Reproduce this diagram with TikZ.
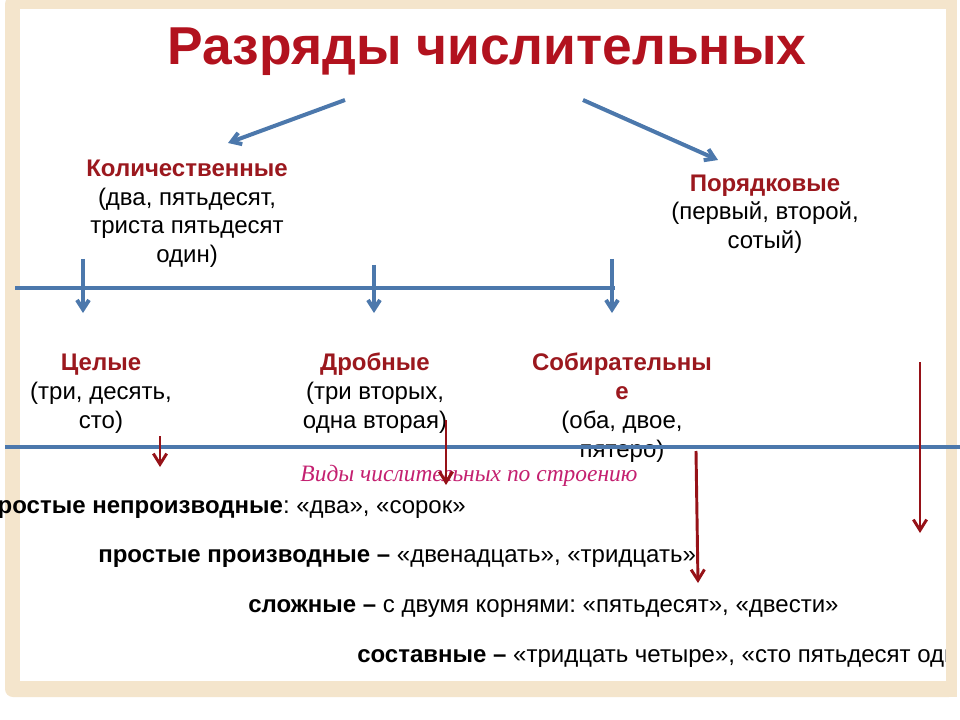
\documentclass[tikz,border=0pt]{standalone}
\usepackage{fontspec}
\setmainfont{Liberation Sans}
\newfontfamily\vidyfont{Liberation Serif}
\usetikzlibrary{arrows.meta}
\definecolor{titlered}{RGB}{178,18,30}
\definecolor{headred}{RGB}{155,24,30}
\definecolor{lineblue}{RGB}{76,120,172}
\definecolor{arrowred}{RGB}{150,18,24}
\definecolor{vidypink}{RGB}{196,32,112}
\definecolor{framebeige}{RGB}{244,229,204}
\newcommand{\razryad}[1]{{\bfseries\color{headred}#1}}
\frenchspacing

\begin{document}
\begin{tikzpicture}[
  x=0.75pt, y=-0.75pt,
  every node/.style={inner sep=0pt, font=\fontsize{18}{21.75}\selectfont},
  titletext/.style={anchor=base, text=titlered,
                    font=\fontsize{40}{44}\selectfont\bfseries},
  group/.style={anchor=base, align=center},
  kind/.style={anchor=base west},
  vidy/.style={anchor=base, text=vidypink,
               font=\fontsize{17.6}{20}\selectfont\vidyfont\itshape},
  bluearrow/.style={-{Straight Barb[length=7pt,width=9pt]}, line width=3pt,
                    lineblue},
  blueline/.style={line width=3pt, lineblue},
  redarrow/.style={-{Straight Barb[length=8pt,width=10pt]}, line width=2.2pt,
                   arrowred},
]
  % Slide frame
  \clip (0,0) rectangle (960,720);
  \fill[white] (0,0) rectangle (960,720);
  \fill[framebeige, rounded corners=6pt] (5,-4) rectangle (957,697);
  \fill[white] (20,9) rectangle (946,681);

  % Title
  \node[titletext] (title) at (487,65) {Разряды числительных};

  % Main groups (base = last line)
  \node[group] (kolich) at (187,263)
    {\razryad{Количественные}\\(два, пятьдесят,\\триста пятьдесят\\один)};
  \node[group] (poryad) at (765,249)
    {\razryad{Порядковые}\\(первый, второй,\\сотый)};

  \coordinate (k0) at (345,100);
  \coordinate (k1) at (228,143);
  \coordinate (p0) at (583,100);
  \coordinate (p1) at (718,160);
  \draw[bluearrow] (k0) -- (k1);
  \draw[bluearrow] (p0) -- (p1);

  % Subgroups of the cardinal numerals
  \node[group] (celye) at (101,428)
    {\razryad{Целые}\\(три, десять,\\сто)};
  \node[group] (drobnye) at (375,428)
    {\razryad{Дробные}\\(три вторых,\\одна вторая)};
  \node[group] (sobir) at (622,457)
    {\razryad{Собирательны}\\\razryad{е}\\(оба, двое,\\пятеро)};

  \coordinate (l0) at (15,288);
  \coordinate (l1) at (615,288);
  \draw[blueline] (l0) -- (l1);
  \foreach \name/\x/\top in {c/83/259, d/374/265, s/612/259}{
    \coordinate (\name0) at (\x,\top);
    \coordinate (\name1) at (\x,313);
    \draw[bluearrow] (\name0) -- (\name1);
  }

  % Kinds by structure
  \node[vidy] (vidy) at (469,481) {Виды числительных по строению};
  \node[anchor=base east] (prostnp) at (466,513)
    {\textbf{простые непроизводные}: «два», «сорок»};
  \node[kind] (prostp) at (98,562)
    {\textbf{простые производные –} «двенадцать», «тридцать»};
  \node[kind] (slozh) at (248,612)
    {\textbf{сложные –} с двумя корнями: «пятьдесят», «двести»};
  \node[kind] (sostav) at (357,662)
    {\textbf{составные –} «тридцать четыре», «сто пятьдесят один»};

  % right edge of the frame over the text
  \fill[framebeige] (946,0) rectangle (957,697);
  \fill[white] (957,0) rectangle (960,720);

  \coordinate (m0) at (5,447);
  \coordinate (m1) at (960,447);
  \draw[blueline] (m0) -- (m1);

  \coordinate (r10) at (160,436);
  \coordinate (r11) at (160,467);
  \coordinate (r20) at (446,420);
  \coordinate (r21) at (446,485);
  \coordinate (r30) at (696,451);
  \coordinate (r31) at (698,583);
  \coordinate (r40) at (920,362);
  \coordinate (r41) at (920,533);
  \draw[redarrow] (r10) -- (r11);
  \draw[redarrow] (r20) -- (r21);
  \draw[redarrow] (r30) -- (r31);
  \draw[redarrow] (r40) -- (r41);
\end{tikzpicture}
\end{document}
